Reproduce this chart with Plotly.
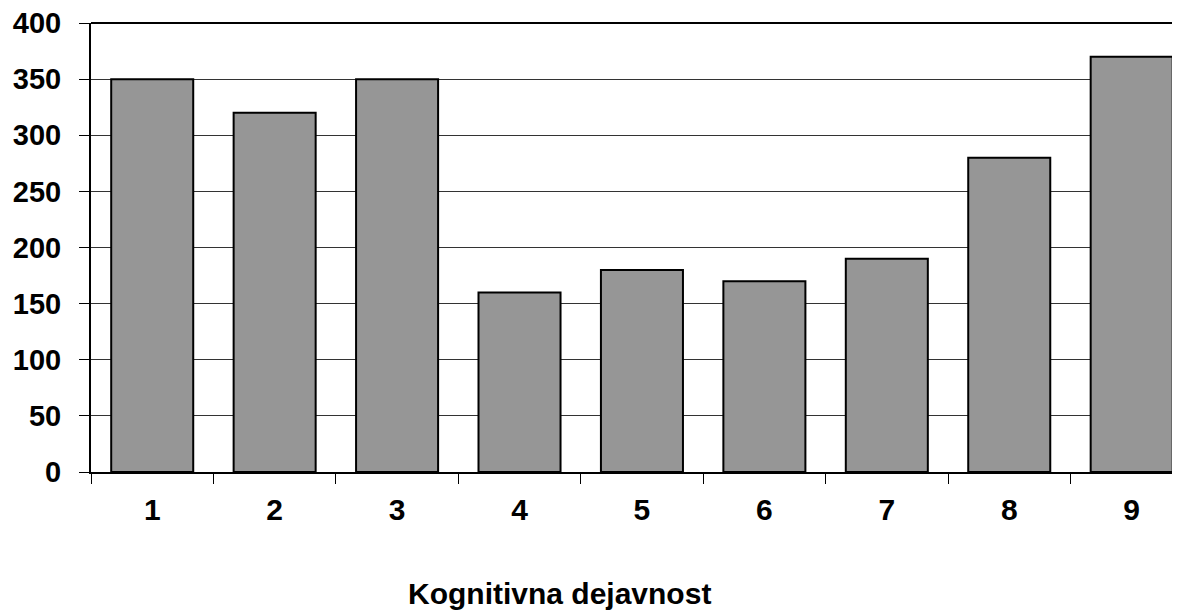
import plotly.graph_objects as go

categories = ["1", "2", "3", "4", "5", "6", "7", "8", "9"]
values = [350, 320, 350, 160, 180, 170, 190, 280, 370]
y_ticks = [0, 50, 100, 150, 200, 250, 300, 350, 400]
x_title = "Kognitivna dejavnost"

FONT = "Liberation Sans, Arial, sans-serif"

fig = go.Figure(
    go.Bar(
        x=categories,
        y=values,
        marker=dict(color="#969696", line=dict(color="black", width=2)),
    )
)

fig.update_layout(
    width=1180,
    height=614,
    margin=dict(l=83, r=0, t=15, b=150),
    plot_bgcolor="white",
    paper_bgcolor="white",
    bargap=0.33,
    showlegend=False,
    font=dict(family=FONT, color="black"),
)

fig.update_xaxes(
    type="category",
    range=[-0.5, 8.46],
    showgrid=False,
    showline=True,
    linecolor="black",
    linewidth=2,
    ticks="outside",
    tickson="boundaries",
    ticklen=10,
    tickcolor="black",
    tickwidth=1,
    tickfont=dict(family=FONT, size=30, color="black", weight="bold"),
    ticklabelstandoff=10,
)

fig.update_yaxes(
    range=[0, 400],
    tickvals=y_ticks,
    showgrid=True,
    gridcolor="#333333",
    gridwidth=1,
    showline=True,
    linecolor="black",
    linewidth=2,
    ticks="outside",
    ticklen=10,
    tickcolor="black",
    tickwidth=1,
    zeroline=False,
    tickfont=dict(family=FONT, size=29, color="black", weight="bold"),
    ticklabelstandoff=12,
    ticklabeloverflow="allow",
)

fig.add_shape(type="line", xref="paper", yref="y domain", x0=0, x1=1, y0=1, y1=1,
              line=dict(color="black", width=2))

fig.add_annotation(
    text=x_title, xref="paper", yref="paper", x=0.4275, y=-0.2695,
    xanchor="center", yanchor="middle", showarrow=False,
    font=dict(family=FONT, size=30, color="black", weight="bold"),
)

fig.write_html("out.html")
